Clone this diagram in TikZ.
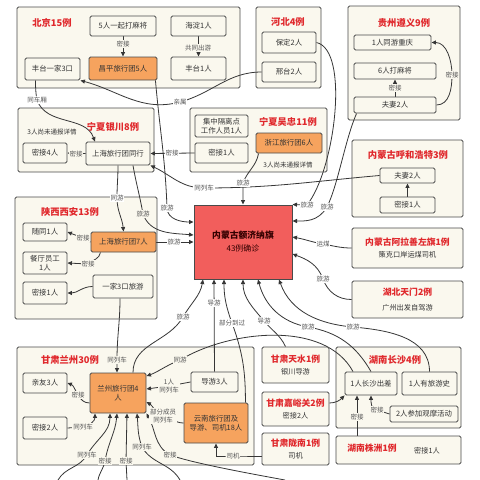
\documentclass[tikz,border=0pt]{standalone}
\usepackage{fontspec}
\setmainfont{Noto Sans CJK SC}
\usetikzlibrary{arrows.meta}
\definecolor{cream}{HTML}{FAF8EE}
\definecolor{bord}{HTML}{4A4A4A}
\definecolor{orng}{HTML}{F6A35E}
\definecolor{cenred}{HTML}{F25E5C}
\definecolor{tred}{HTML}{E0282C}
\definecolor{lnc}{HTML}{363636}
\definecolor{lbltext}{HTML}{555555}
\definecolor{txt}{HTML}{333333}
\pgfdeclarelayer{back}\pgfdeclarelayer{mid}\pgfsetlayers{back,mid,main}
\newcommand\mkbox[7]{\node[#2, minimum width={(#5-#3)*1pt}, minimum height={(#6-#4)*1pt}] (#1) at ({(#3+#5)/2},{(#4+#6)/2}) {#7};}
\newcommand\mytitle[1]{{\fontsize{8.8}{10}\selectfont\bfseries\color{tred}#1}}
\newcommand\mysub[1]{{\fontsize{7.2}{9}\selectfont\color{txt}#1}}
\tikzset{
 grp/.style={draw=bord, fill=cream, rounded corners=1.5pt, line width=0.9pt, inner sep=0pt},
 ibox/.style={draw=bord, fill=cream, rounded corners=1.5pt, line width=0.9pt, inner sep=0pt, align=center, font=\fontsize{7.4}{8.6}\selectfont, text=txt},
 obox/.style={ibox, fill=orng},
 sbox/.style={ibox, font=\fontsize{8}{12}\selectfont},
 cbox/.style={draw=bord, fill=cenred, line width=1pt, inner sep=0pt, align=center, text=black!80!red},
 ttl/.style={font=\fontsize{9.3}{10}\selectfont\bfseries, text=tred, inner sep=0pt},
 note/.style={font=\fontsize{6.5}{7.5}\selectfont, text=txt, inner sep=0pt},
 lbl/.style={font=\fontsize{6.5}{7.5}\selectfont, text=lbltext, fill=white, inner sep=0.8pt, align=center},
 lblc/.style={lbl, fill=cream},
 con/.style={draw=lnc, line width=0.8pt, -{Triangle[length=4.5pt,width=4pt]}},
}
\begin{document}
\begin{tikzpicture}[x=1pt,y=-1pt]
\useasboundingbox (0,0) rectangle (480,480);
\begin{pgfonlayer}{back}
\fill[white] (0,0) rectangle (480,480);
\mkbox{gBJ}{grp}{17}{7}{240}{88}{}
\mkbox{gHB}{grp}{256}{7}{321}{88}{}
\mkbox{gGZ}{grp}{348}{6}{460}{120}{}
\mkbox{gYC}{grp}{18}{108}{154}{172}{}
\mkbox{gWZ}{grp}{190}{108}{327}{172}{}
\mkbox{gHH}{grp}{352}{140}{463}{217}{}
\mkbox{gSX}{grp}{15}{197}{157}{319}{}
\mkbox{gLZ}{grp}{17}{347}{254}{465}{}
\mkbox{gCS}{grp}{336}{347}{461}{428}{}
\end{pgfonlayer}
% titles
\node[ttl] (tBJ) at (52,23) {北京15例};
\node[ttl] (tHB) at (288,22) {河北4例};
\node[ttl] (tGZ) at (404,23) {贵州遵义9例};
\node[ttl] (tYC) at (113,127) {宁夏银川8例};
\node[ttl] (tWZ) at (288,122) {宁夏吴忠11例};
\node[ttl] (tHH) at (408,155) {内蒙古呼和浩特3例};
\node[ttl] (tSX) at (70,212) {陕西西安13例};
\node[ttl] (tLZ) at (70,360) {甘肃兰州30例};
\node[ttl] (tCS) at (395,360) {湖南长沙4例};
\node[note] (nYC) at (52,132) {3人尚未通报详情};
\node[note] (nWZ) at (288,165) {3人尚未通报详情};
% Beijing
\mkbox{b5}{ibox}{90}{16}{156}{36}{5人一起打麻将}
\mkbox{bCP}{obox}{89}{57}{157}{80}{昌平旅行团5人}
\mkbox{bFT3}{ibox}{25}{58}{80}{80}{丰台一家3口}
\mkbox{bHD}{ibox}{171}{16}{226}{36}{海淀1人}
\mkbox{bFT1}{ibox}{171}{57}{226}{80}{丰台1人}
% Hebei
\mkbox{hBD}{ibox}{262}{32}{316}{53}{保定2人}
\mkbox{hXT}{ibox}{262}{62}{316}{82}{邢台2人}
% Guizhou
\mkbox{gz1}{ibox}{354}{35}{431}{50}{1人同游重庆}
\mkbox{gz6}{ibox}{354}{63}{436}{79}{6人打麻将}
\mkbox{gzF}{ibox}{354}{97}{436}{113}{夫妻2人}
% Yinchuan
\mkbox{yM4}{ibox}{23}{143}{67}{163}{密接4人}
\mkbox{ySH}{ibox}{86}{142}{150}{165}{上海旅行团同行}
% Wuzhong
\mkbox{wJZ}{ibox}{195}{115}{248}{137}{集中隔离点\\工作人员1人}
\mkbox{wMJ}{ibox}{195}{143}{248}{163}{密接1人}
\mkbox{wZJ}{obox}{256}{133}{322}{153}{浙江旅行团6人}
% Huhehaote
\mkbox{hhF}{ibox}{380}{168}{435}{183}{夫妻2人}
\mkbox{hhM}{ibox}{380}{197}{435}{213}{密接1人}
% single boxes
\mkbox{al}{sbox}{352}{228}{463}{268}{\mytitle{内蒙古阿拉善左旗1例}\\\mysub{策克口岸运煤司机}}
\mkbox{tm}{sbox}{352}{281}{463}{318}{\mytitle{湖北天门2例}\\[3pt]\mysub{广州出发自驾游}}
\mkbox{ts}{sbox}{262}{347}{329}{383}{\mytitle{甘肃天水1例}\\\mysub{银川导游}}
\mkbox{jy}{sbox}{262}{392}{329}{426}{\mytitle{甘肃嘉峪关2例}\\\mysub{密接2人}}
\mkbox{ln}{sbox}{262}{433}{329}{465}{\mytitle{甘肃陇南1例}\\\mysub{司机}}
\mkbox{zz}{sbox}{336}{436}{461}{464}{}
\node[inner sep=0pt] (zzT) at (372,448) {\mytitle{湖南株洲1例}};
\node[inner sep=0pt] (zzS) at (427,451) {\mysub{密接1人}};
% center
\mkbox{cen}{cbox}{194}{205}{292}{279}{{\fontsize{8.8}{10}\selectfont\bfseries 内蒙古额济纳旗}\\[1pt]{\fontsize{8}{10}\selectfont 43例确诊}}
% Shaanxi
\mkbox{sSui}{ibox}{23}{223}{67}{241}{随同1人}
\mkbox{sCT}{ibox}{23}{252}{67}{274}{餐厅员工\\1人}
\mkbox{sMJ}{ibox}{23}{282}{67}{304}{密接1人}
\mkbox{sSH}{obox}{91}{232}{156}{252}{上海旅行团7人}
\mkbox{sJ3}{ibox}{93}{275}{153}{298}{一家3口旅游}
% Lanzhou
\mkbox{lQY}{ibox}{23}{373}{67}{393}{亲友3人}
\mkbox{lMJ}{ibox}{23}{417}{67}{439}{密接2人}
\mkbox{lLZ}{obox}{90}{373}{146}{413}{兰州旅行团4\\人}
\mkbox{lDY}{ibox}{191}{372}{238}{392}{导游3人}
\mkbox{lYN}{obox}{184}{403}{248}{443}{云南旅行团及\\导游、司机18人}
% Changsha
\mkbox{cs1}{ibox}{345}{372}{397}{395}{1人长沙出差}
\mkbox{csY}{ibox}{402}{372}{457}{395}{1人有旅游史}
\mkbox{cs2}{ibox}{390}{406}{458}{422}{2人参加观摩活动}
% labels
\node[lblc] (m1) at (123,44) {密接};
\node[lblc] (m2) at (198,48) {共同出游};
\node[lbl] (m3) at (180,102) {亲属};
\node[lbl] (m4) at (37,100) {同车厢};
\node[lblc] (m5) at (76,154) {密接};
\node[lbl] (m6) at (172,153) {密接};
\node[lbl] (m7) at (204,188) {同列车};
\node[lbl] (m8) at (243,183) {旅游};
\node[lbl] (m9) at (117,198) {同游};
\node[lblc] (m10) at (143,214) {旅游};
\node[lbl] (m11) at (167,208) {旅游};
\node[lbl] (m12) at (174,242) {旅游};
\node[lbl] (m13) at (307,205) {旅游};
\node[lbl] (m14) at (327,207) {旅游};
\node[lbl] (m15) at (323,244) {运煤};
\node[lbl] (m16) at (323,279) {旅游};
\node[lbl] (m17) at (183,317) {旅游};
\node[lbl] (m18) at (214,303) {导游};
\node[lbl] (m19) at (232,323) {部分到过};
\node[lbl] (m20) at (264,321) {导游};
\node[lbl] (m21) at (308,327) {旅游};
\node[lbl] (m22) at (353,327) {旅游};
\node[lblc] (m23) at (395,88) {密接};
\node[lblc] (m24) at (452,75) {密接};
\node[lblc] (m25) at (83,238) {密接};
\node[lblc] (m26) at (88,264) {密接};
\node[lblc] (m27) at (117,360) {同列车};
\node[lblc] (m28) at (78,395) {密接};
\node[lblc] (m29) at (83,427) {同列车};
\node[lblc] (m30) at (180,360) {同游};
\node[lblc] (m31) at (169,386) {1人\\同列车};
\node[lblc] (m32) at (163,416) {部分成员\\同列车};
\node[lblc] (m33) at (87,455) {同列车};
\node[lblc] (m34) at (105,461) {密接};
\node[lblc] (m35) at (126,461) {密接};
\node[lblc] (m36) at (142,447) {同列车};
\node[lblc] (m37) at (170,455) {密接};
\node[lblc] (m38) at (233,456) {司机};
\node[lblc] (m39) at (377,410) {密接};
\node[lblc] (m40) at (357,417) {密接};
\coordinate (e1) at (58,480);
\coordinate (e2) at (98,480);
\coordinate (e3) at (127,480);
\coordinate (e4) at (180,480);
\coordinate (e5) at (285,480);
\begin{pgfonlayer}{mid}
\draw[con] (b5) -- (bCP);
\draw[con] (bHD) -- (bFT1);
\draw[con] (hXT.west) to[out=180,in=15] (m3.center) to[out=195,in=-15] (bFT3.south east);
\draw[con] ([xshift=-17pt]bFT3.south) to[out=-90,in=100] (m4.center) to[out=-70,in=110] ([xshift=-23pt]ySH.north);
\draw[con] ([xshift=-2pt]bCP.south east) to[out=-85,in=92] (m11.center) to[out=-88,in=180] ([yshift=20pt]cen.west);
\draw[con] ([xshift=15pt]ySH.south) to[out=-80,in=100] (m10.center) to[out=-70,in=175] ([yshift=7pt]cen.west);
\draw[con] (ySH.south) to[out=-90,in=90] (m9.center) to[out=-90,in=95] (sSH.north);
\draw[con] (ySH.west) -- (yM4.east);
\draw[con] (wMJ.west) -- (ySH.east);
\draw[con] (hhF.west) to[out=185,in=0] (m7.center) to[out=180,in=-25] (ySH.south east);
\draw[con] ([xshift=3pt]wZJ.south west) to[out=-100,in=70] (m8.center) to[out=-90,in=90] (cen.north);
\draw[con] (hBD.east) .. controls (350,50) and (335,170) .. (m13.center) -- (cen.north east);
\draw[con] ([xshift=3pt]gzF.south west) .. controls (345,140) and (338,185) .. (m14.center) .. controls (318,222) and (305,221) .. ([yshift=21pt]cen.east);
\draw[con] (al.west) to[out=180,in=-10] (m15.center) to[out=170,in=-10] ([yshift=5pt]cen.east);
\draw[con] (tm.west) to[out=180,in=-70] (m16.center) to[out=110,in=-20] ([yshift=-12pt]cen.east);
\draw[con] ([xshift=15pt]lLZ.north) to[out=90,in=-120] (m17.center) to[out=60,in=-100] ([xshift=-40pt]cen.south);
\draw[con] (lDY.north) -- ([xshift=-29pt]cen.south);
\draw[con] ([xshift=-3pt]lYN.north east) to[out=90,in=-70] (m19.center) to[out=110,in=-90] ([xshift=-19pt]cen.south);
\draw[con] ([xshift=-10pt]ts.north) to[out=115,in=-50] (m20.center) to[out=130,in=-90] (cen.south);
\draw[con] (cs1.north) to[out=120,in=-10] (m21.center) to[out=170,in=-75] ([xshift=15pt]cen.south);
\draw[con] (csY.north) to[out=90,in=-5] (m22.center) to[out=175,in=-70] ([xshift=36pt]cen.south);
\draw[con] ([xshift=-18pt]cs1.north) .. controls (325,320) and (230,330) .. (m30.center) .. controls (165,366) and (158,372) .. ([yshift=17pt]lLZ.east);
\draw[con] (lDY.west) -- (m31.center) -- ([yshift=4pt]lLZ.east);
\draw[con] (lYN.west) to[out=180,in=-10] (m32.center) to[out=170,in=-30] ([yshift=-9pt]lLZ.east);
\draw[con] ([xshift=-3pt]sJ3.south) to[out=-90,in=90] (m27.center) -- ([xshift=-1pt]lLZ.north);
\draw[con] ([yshift=-10pt]lLZ.west) to[out=180,in=-60] (m28.center) to[out=120,in=-20] (lQY.east);
\draw[con] (lMJ.east) -- (m29.center) to[out=10,in=-90] ([xshift=-23pt]lLZ.south);
\draw[con] (e1) to[out=60,in=-120] (m33.center) to[out=60,in=-90] ([xshift=-8pt]lLZ.south);
\draw[con] (e2) to[out=80,in=-100] (m34.center) to[out=80,in=-95] ([xshift=-1pt]lLZ.south);
\draw[con] (e3) -- (m35.center) -- ([xshift=9pt]lLZ.south);
\draw[con] (e4) to[out=120,in=-60] (m36.center) to[out=110,in=-85] ([xshift=19pt]lLZ.south);
\draw[con] (e5) .. controls (230,470) and (190,462) .. (m37.center) to[out=150,in=-60] (lLZ.south east);
\draw[con] ([yshift=-7pt]ln.west) -- (m38.center) -| (lYN.south);
\draw[con] ([yshift=6pt]jy.east) to[out=0,in=-135] (cs1.south west);
\draw[con] (cs2.west) -- (m39.center) to[out=180,in=-90] (cs1.south);
\draw[con] ([xshift=-41.5pt]zz.north) -- ([xshift=-14pt]cs1.south);
\draw[con] (gzF) -- (gz6);
\draw[con] (gzF.east) to[out=0,in=-90] (m24.center) to[out=90,in=0] (gz1.east);
\draw[con] (hhM) -- (hhF);
\draw[con] (sSH.west) -- (m25.center) -- (sSui.east);
\draw[con] ([xshift=-23pt]sSH.south) to[out=-100,in=40] (m26.center) -- (sCT.east);
\draw[con] (sJ3.west) to[out=180,in=0] (sMJ.east);
\draw[con] (sSH.east) -- (cen.west);
\end{pgfonlayer}
\end{tikzpicture}
\end{document}
